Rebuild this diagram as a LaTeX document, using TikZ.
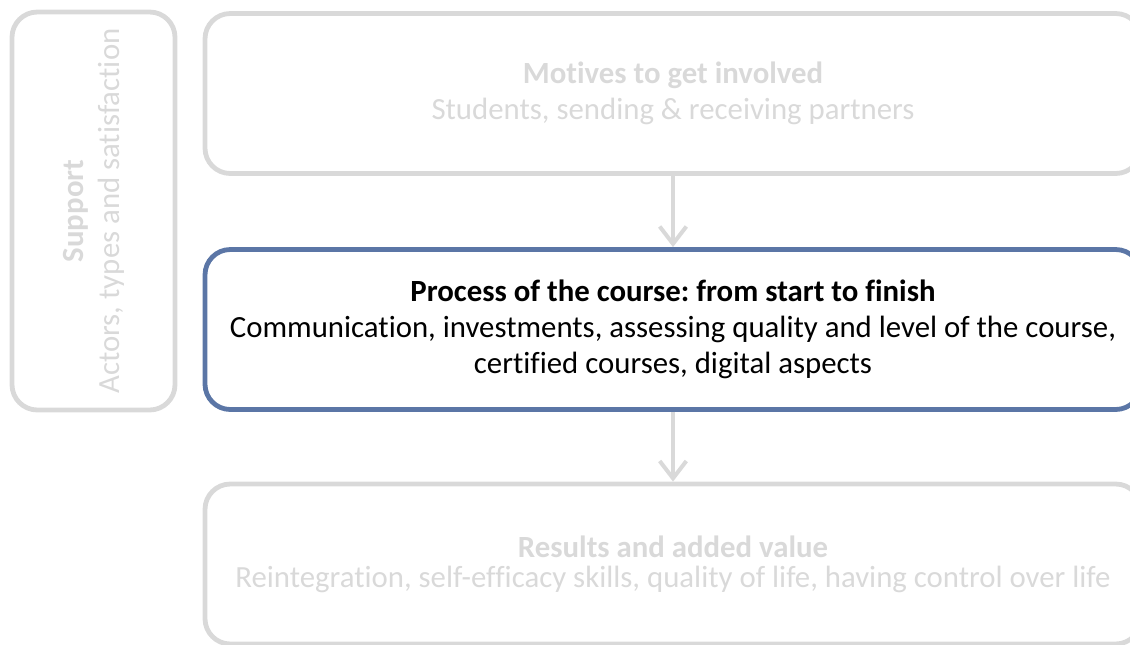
\documentclass[tikz,border=0pt]{standalone}
\usepackage{fontspec}
\setmainfont[Ligatures=NoCommon]{Carlito}
\usetikzlibrary{arrows.meta}
\definecolor{boxgray}{HTML}{D9D9D9}
\definecolor{boxblue}{HTML}{5B76A6}
\begin{document}
\frenchspacing
\begin{tikzpicture}[x=0.75pt,y=-0.75pt,
  box/.style={draw=boxgray, line width=3.6pt, rounded corners=19pt,
    align=center, inner sep=0pt, text=boxgray,
    font=\fontsize{23.1pt}{27pt}\selectfont},
  wide/.style={box, minimum width=702pt, minimum height=120pt},
  active/.style={wide, draw=boxblue, text=black},
  flow/.style={draw=boxgray, line width=3pt,
    -{Straight Barb[length=13pt,width=20pt,line width=3pt]}}]
\useasboundingbox (0,0) rectangle (1130,644);
\node[box, rotate=90, minimum width=298.5pt, minimum height=122.25pt] (support) at (93.5,211)
  {{\bfseries Support}\\Actors, types and satisfaction};
\node[wide] (motives) at (673,93.5)
  {{\bfseries Motives to get involved}\\Students, sending \& receiving partners};
\node[active] (process) at (673,329.5)
  {{\bfseries Process of the course: from start to finish}\\Communication, investments, assessing quality and level of the course,\\certified courses, digital aspects};
\node[wide, font=\fontsize{23.1pt}{22.5pt}\selectfont] (results) at (673,564)
  {{\bfseries Results and added value}\\Reintegration, self-efficacy skills, quality of life, having control over life};
\draw[flow] (motives.south) -- (process.north);
\draw[flow] (process.south) -- (results.north);
\end{tikzpicture}
\end{document}
